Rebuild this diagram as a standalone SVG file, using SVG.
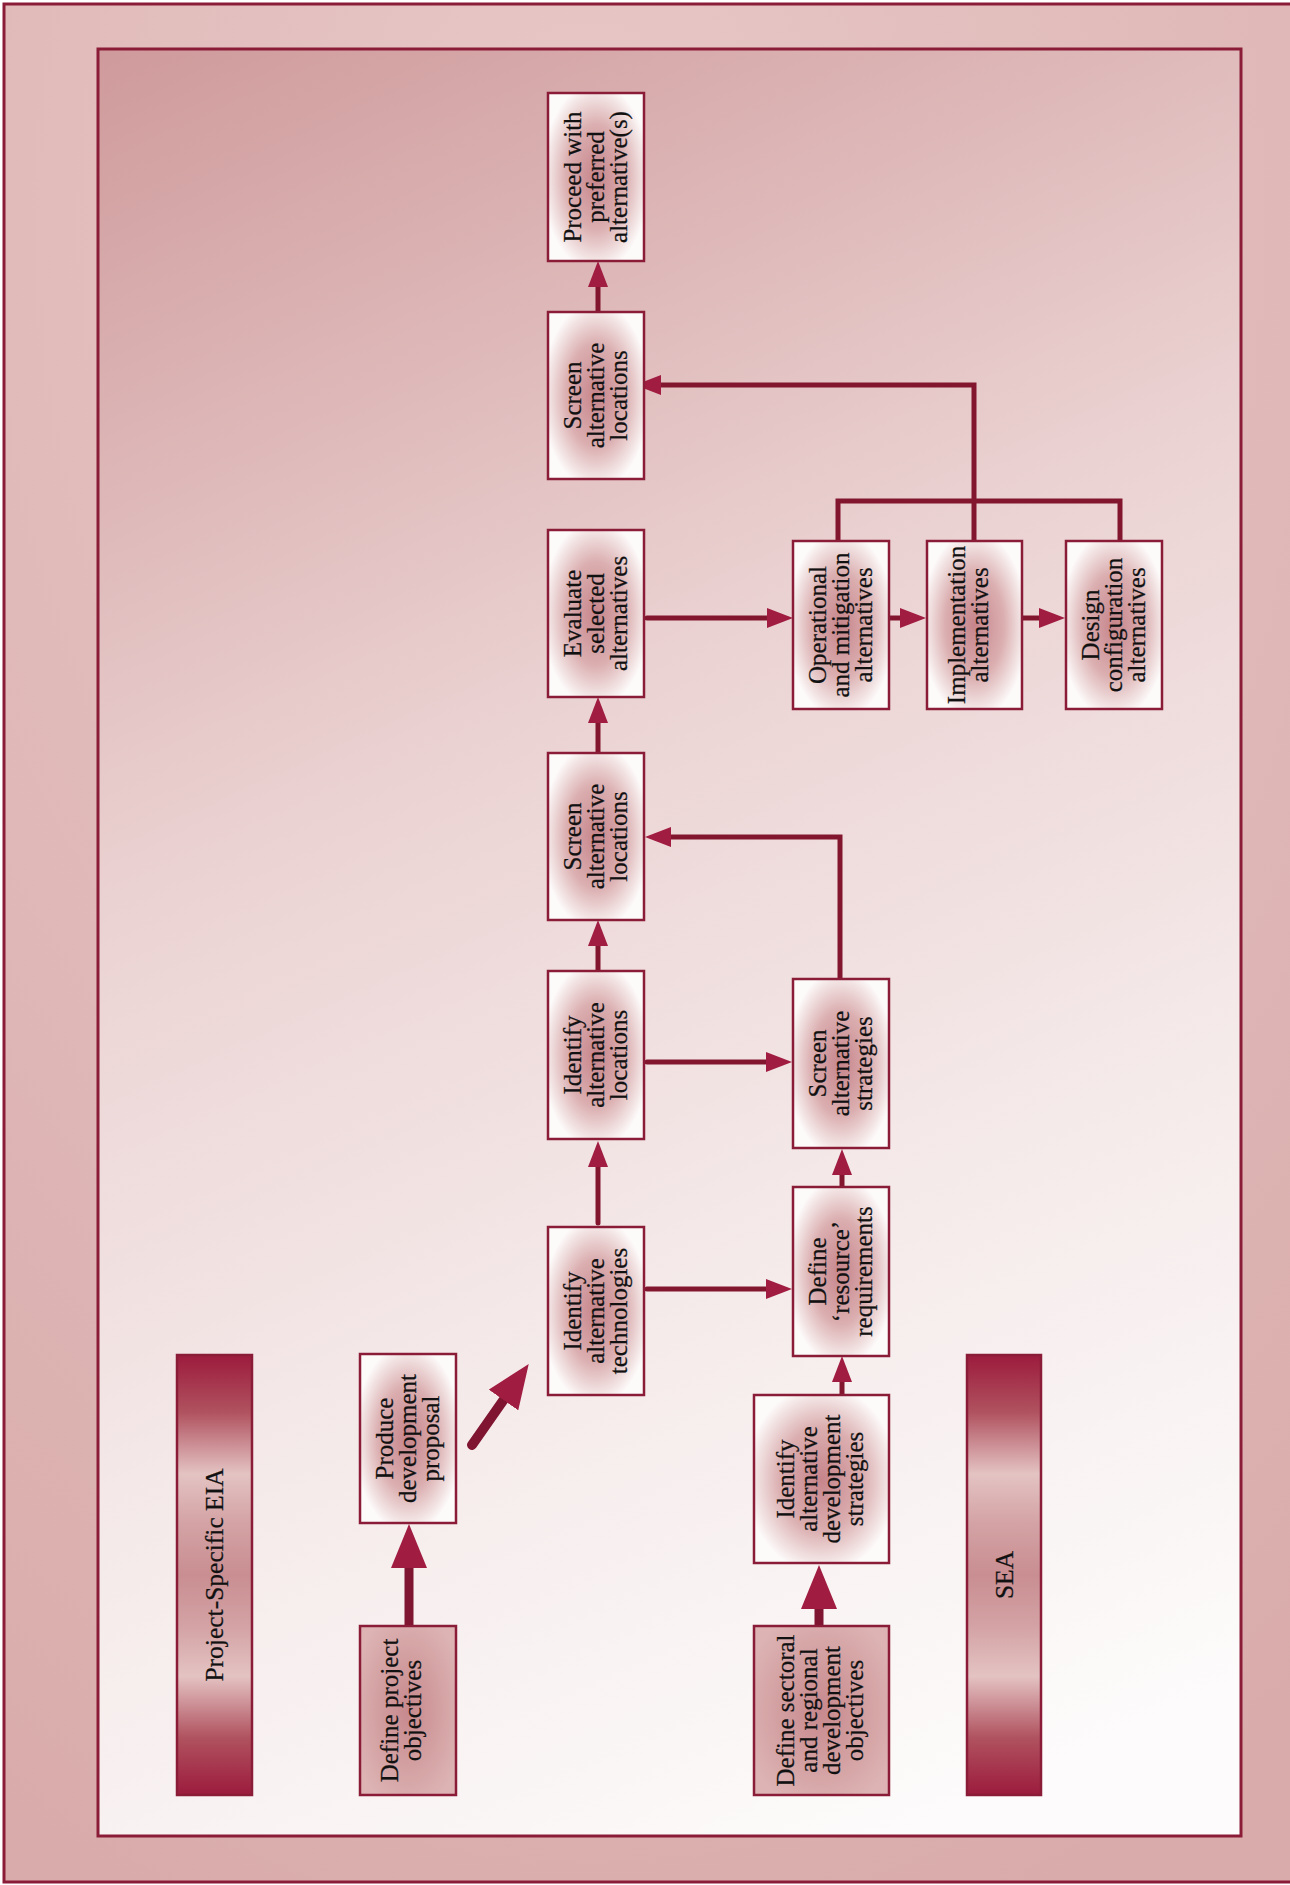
<svg xmlns="http://www.w3.org/2000/svg" width="1290" height="1885" viewBox="0 0 1290 1885">
  <defs>
    <radialGradient id="outerBg" cx="0.45" cy="0.12" r="0.95">
      <stop offset="0" stop-color="#e7c8c7"/>
      <stop offset="1" stop-color="#d9acab"/>
    </radialGradient>
    <linearGradient id="innerBg" gradientUnits="userSpaceOnUse" x1="97" y1="49" x2="900" y2="1836">
      <stop offset="0" stop-color="#cf9a9b"/>
      <stop offset="0.4" stop-color="#ebd2d2"/>
      <stop offset="0.7" stop-color="#f5eaea"/>
      <stop offset="1" stop-color="#fdfbfb"/>
    </linearGradient>
    <radialGradient id="boxFill" cx="0.5" cy="0.5" r="0.56">
      <stop offset="0" stop-color="#c6858b"/>
      <stop offset="0.55" stop-color="#dbaeb0"/>
      <stop offset="0.85" stop-color="#f1e0e0"/>
      <stop offset="1" stop-color="#fdfafa"/>
    </radialGradient>
    <radialGradient id="objFill" cx="0.5" cy="0.5" r="0.6">
      <stop offset="0" stop-color="#c7898d"/>
      <stop offset="1" stop-color="#ddb3b3"/>
    </radialGradient>
    <linearGradient id="barFill" x1="0" y1="0" x2="0" y2="1">
      <stop offset="0" stop-color="#9c1b3d"/>
      <stop offset="0.13" stop-color="#b0525f"/>
      <stop offset="0.27" stop-color="#e4c3c3"/>
      <stop offset="0.38" stop-color="#d4a3a5"/>
      <stop offset="0.5" stop-color="#c98e92"/>
      <stop offset="0.62" stop-color="#d4a3a5"/>
      <stop offset="0.73" stop-color="#e4c3c3"/>
      <stop offset="0.87" stop-color="#b0525f"/>
      <stop offset="1" stop-color="#9c1b3d"/>
    </linearGradient>
    <marker id="ah" viewBox="0 -10 26 20" refX="0" refY="0" markerWidth="26" markerHeight="20" markerUnits="userSpaceOnUse" orient="auto">
      <path d="M0,-10 L26,0 L0,10 z" fill="#a01c40"/>
    </marker>
    <marker id="ahL" viewBox="0 -18 44 36" refX="0" refY="0" markerWidth="44" markerHeight="36" markerUnits="userSpaceOnUse" orient="auto">
      <path d="M0,-18 L44,0 L0,18 z" fill="#a01c40"/>
    </marker>
  </defs>
  <style>
    .box { fill: url(#boxFill); stroke: #8b1c38; stroke-width: 2.5; }
    .obj { fill: url(#objFill); stroke: #8b1c38; stroke-width: 2.5; }
    .bar { fill: url(#barFill); stroke: #8b1c38; stroke-width: 2.5; }
    .lbl { font-family: "Liberation Serif", "DejaVu Serif", serif; font-size: 25px; fill: #111; stroke: #111; stroke-width: 0.25; text-anchor: middle; }
    .barlbl { font-family: "Liberation Serif", "DejaVu Serif", serif; font-size: 25.5px; fill: #111; stroke: #111; stroke-width: 0.25; text-anchor: middle; }
    .c { fill: none; stroke: #82162f; stroke-width: 5; stroke-linecap: round; stroke-linejoin: miter; }
    .cs { fill: none; stroke: #82162f; stroke-width: 5; stroke-linecap: butt; stroke-linejoin: miter; }
    .cb { fill: none; stroke: #7f1530; stroke-width: 9; stroke-linecap: round; }
  </style>

  <rect x="4" y="4" width="1300" height="1878" fill="url(#outerBg)" stroke="#8b1c38" stroke-width="3"/>
  <rect x="98" y="49" width="1143" height="1787" fill="url(#innerBg)" stroke="#8b1c38" stroke-width="3"/>

  <g id="connectors">
    <path class="cb" d="M409,1626 V1568" marker-end="url(#ahL)"/>
    <path class="cb" style="stroke-width:10" d="M472,1445 L503.5,1400" marker-end="url(#ahL)"/>
    <path class="cb" d="M819,1626 V1609" marker-end="url(#ahL)"/>
    <path class="c" d="M598,1223 V1167" marker-end="url(#ah)"/>
    <path class="c" d="M598,971 V946" marker-end="url(#ah)"/>
    <path class="c" d="M598,753 V723" marker-end="url(#ah)"/>
    <path class="c" d="M598,312 V287" marker-end="url(#ah)"/>
    <path class="c" d="M647,1289 H766" marker-end="url(#ah)"/>
    <path class="c" d="M647,1062 H766" marker-end="url(#ah)"/>
    <path class="c" d="M842,1187 V1175" marker-end="url(#ah)"/>
    <path class="c" d="M842,1395 V1382" marker-end="url(#ah)"/>
    <path class="cs" d="M840,979 V837 H671" marker-end="url(#ah)"/>
    <path class="c" d="M647,618 H767" marker-end="url(#ah)"/>
    <path class="cs" d="M889,618 H900" marker-end="url(#ah)"/>
    <path class="cs" d="M1022,618 H1039" marker-end="url(#ah)"/>
    <path class="cs" d="M838,541 V501 H1120 V541"/>
    <path class="cs" d="M974,541 V385 H661" marker-end="url(#ah)"/>
  </g>

  <g id="n-proceed">
    <rect class="box" x="548" y="93" width="96" height="168"/>
    <text class="lbl" transform="translate(596,177) rotate(-90)"><tspan x="0" y="-15">Proceed with</tspan><tspan x="0" dy="23">preferred</tspan><tspan x="0" dy="23">alternative(s)</tspan></text>
  </g>
  <g id="n-screen-loc-2">
    <rect class="box" x="548" y="312" width="96" height="167"/>
    <text class="lbl" transform="translate(596,395.5) rotate(-90)"><tspan x="0" y="-15">Screen</tspan><tspan x="0" dy="23">alternative</tspan><tspan x="0" dy="23">locations</tspan></text>
  </g>
  <g id="n-evaluate">
    <rect class="box" x="548" y="530" width="96" height="167"/>
    <text class="lbl" transform="translate(596,613.5) rotate(-90)"><tspan x="0" y="-15">Evaluate</tspan><tspan x="0" dy="23">selected</tspan><tspan x="0" dy="23">alternatives</tspan></text>
  </g>
  <g id="n-screen-loc-1">
    <rect class="box" x="548" y="753" width="96" height="167"/>
    <text class="lbl" transform="translate(596,836.5) rotate(-90)"><tspan x="0" y="-15">Screen</tspan><tspan x="0" dy="23">alternative</tspan><tspan x="0" dy="23">locations</tspan></text>
  </g>
  <g id="n-identify-loc">
    <rect class="box" x="548" y="971" width="96" height="168"/>
    <text class="lbl" transform="translate(596,1055) rotate(-90)"><tspan x="0" y="-15">Identify</tspan><tspan x="0" dy="23">alternative</tspan><tspan x="0" dy="23">locations</tspan></text>
  </g>
  <g id="n-identify-tech">
    <rect class="box" x="548" y="1227" width="96" height="168"/>
    <text class="lbl" transform="translate(596,1311) rotate(-90)"><tspan x="0" y="-15">Identify</tspan><tspan x="0" dy="23">alternative</tspan><tspan x="0" dy="23">technologies</tspan></text>
  </g>

  <g id="n-operational">
    <rect class="box" x="793" y="541" width="96" height="168"/>
    <text class="lbl" transform="translate(841,625) rotate(-90)"><tspan x="0" y="-15">Operational</tspan><tspan x="0" dy="23">and mitigation</tspan><tspan x="0" dy="23">alternatives</tspan></text>
  </g>
  <g id="n-implementation">
    <rect class="box" x="927" y="541" width="95" height="168"/>
    <text class="lbl" transform="translate(974.5,625) rotate(-90)"><tspan x="0" y="-10">Implementation</tspan><tspan x="0" dy="23">alternatives</tspan></text>
  </g>
  <g id="n-design">
    <rect class="box" x="1066" y="541" width="96" height="168"/>
    <text class="lbl" transform="translate(1114,625) rotate(-90)"><tspan x="0" y="-15">Design</tspan><tspan x="0" dy="23">configuration</tspan><tspan x="0" dy="23">alternatives</tspan></text>
  </g>
  <g id="n-screen-strategies">
    <rect class="box" x="793" y="979" width="96" height="169"/>
    <text class="lbl" transform="translate(841,1063.5) rotate(-90)"><tspan x="0" y="-15">Screen</tspan><tspan x="0" dy="23">alternative</tspan><tspan x="0" dy="23">strategies</tspan></text>
  </g>
  <g id="n-define-resource">
    <rect class="box" x="793" y="1187" width="96" height="169"/>
    <text class="lbl" transform="translate(841,1271.5) rotate(-90)"><tspan x="0" y="-15">Define</tspan><tspan x="0" dy="23">‘resource’</tspan><tspan x="0" dy="23">requirements</tspan></text>
  </g>
  <g id="n-identify-dev">
    <rect class="box" x="754" y="1395" width="135" height="168"/>
    <text class="lbl" transform="translate(821.5,1479) rotate(-90)"><tspan x="0" y="-28">Identify</tspan><tspan x="0" dy="23">alternative</tspan><tspan x="0" dy="23">development</tspan><tspan x="0" dy="23">strategies</tspan></text>
  </g>
  <g id="n-define-sectoral">
    <rect class="obj" x="754" y="1626" width="135" height="169"/>
    <text class="lbl" transform="translate(821.5,1710.5) rotate(-90)"><tspan x="0" y="-28">Define sectoral</tspan><tspan x="0" dy="23">and regional</tspan><tspan x="0" dy="23">development</tspan><tspan x="0" dy="23">objectives</tspan></text>
  </g>

  <g id="n-produce">
    <rect class="box" x="360" y="1354" width="96" height="169"/>
    <text class="lbl" transform="translate(408,1438.5) rotate(-90)"><tspan x="0" y="-15">Produce</tspan><tspan x="0" dy="23">development</tspan><tspan x="0" dy="23">proposal</tspan></text>
  </g>
  <g id="n-define-project">
    <rect class="obj" x="360" y="1626" width="96" height="169"/>
    <text class="lbl" transform="translate(408,1710.5) rotate(-90)"><tspan x="0" y="-10">Define project</tspan><tspan x="0" dy="23">objectives</tspan></text>
  </g>

  <g id="bar-eia">
    <rect class="bar" x="177" y="1355" width="75" height="440"/>
    <text class="barlbl" transform="translate(214.5,1575) rotate(-90)" y="8">Project-Specific EIA</text>
  </g>
  <g id="bar-sea">
    <rect class="bar" x="967" y="1355" width="74" height="440"/>
    <text class="barlbl" transform="translate(1004,1575) rotate(-90)" y="9">SEA</text>
  </g>
</svg>
